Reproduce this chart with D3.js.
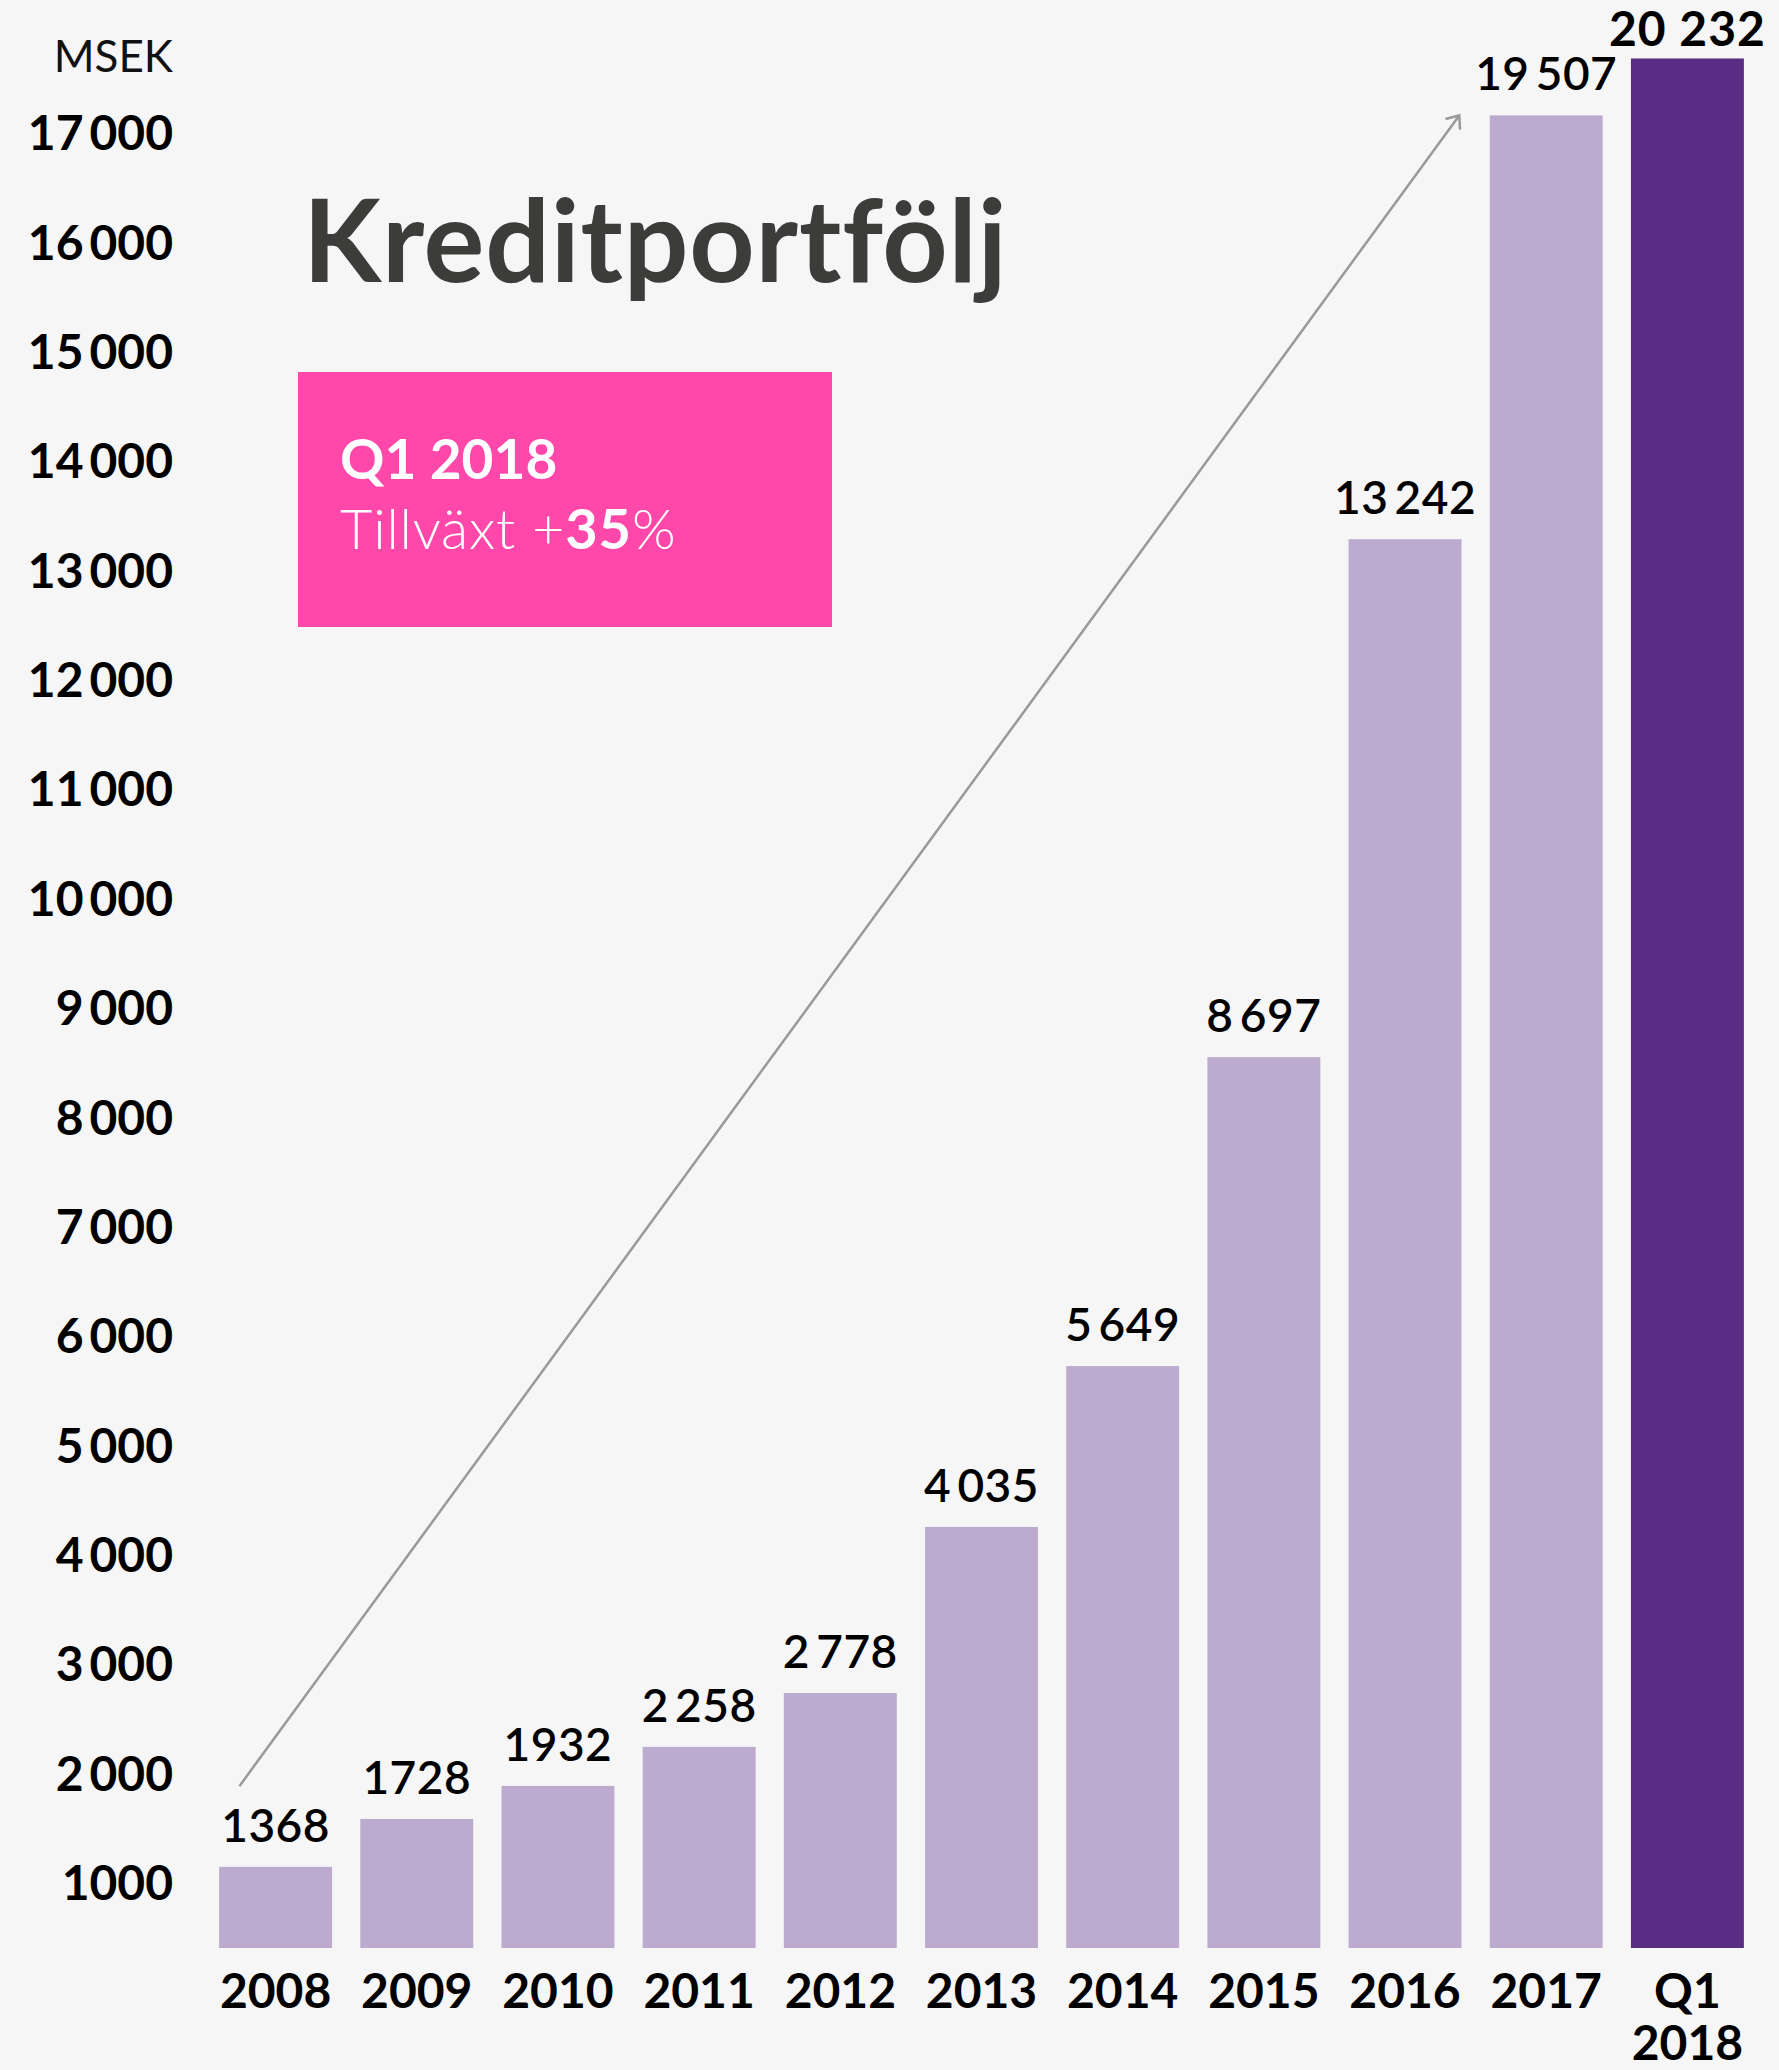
<!DOCTYPE html>
<html>
<head>
<meta charset="utf-8">
<script src="https://cdn.jsdelivr.net/npm/d3@7"></script>
<style>
  html, body { margin: 0; padding: 0; background: #f6f6f6; }
  svg { display: block; }
  text { font-family: Lato, "Open Sans", sans-serif; }
</style>
</head>
<body>
<svg id="chart" width="1779" height="2070"></svg>
<script>
// ---- data ----
const categories = ["2008","2009","2010","2011","2012","2013","2014","2015","2016","2017","Q1 2018"];
// bar heights as drawn against the y axis
const barValues = [1142, 1580, 1882, 2239, 2732, 4250, 5721, 8546, 13281, 17156, 17677];
// printed value labels
const valueLabels = ["1368","1728","1932","2\u2009258","2\u2009778","4\u2009035","5\u2009649","8\u2009697","13\u2009242","19\u2009507","20 232"];
const yTicks = [1000,2000,3000,4000,5000,6000,7000,8000,9000,10000,11000,12000,13000,14000,15000,16000,17000];
const yTickLabels = ["1000","2\u2009000","3\u2009000","4\u2009000","5\u2009000","6\u2009000","7\u2009000","8\u2009000","9\u2009000","10\u2009000","11\u2009000","12\u2009000","13\u2009000","14\u2009000","15\u2009000","16\u2009000","17\u2009000"];
const unitLabel = "MSEK";
const title = "Kreditportfölj";
const boxTitle = "Q1 2018";
const boxText = ["Tillväxt ", "+", "35", "%"];

// ---- drawing ----
const svg = d3.select("#chart");
svg.append("rect").attr("width",1779).attr("height",2070).attr("fill","#f6f6f6");

const x = d3.scaleBand().domain(categories).range([205, 1758]).paddingInner(0.2).paddingOuter(0.1);
const y = d3.scaleLinear().domain([400, 17000]).range([1948, 132.5]);

const lightC = "#bcabcf", darkC = "#5a2d84";

// y axis
const yAxis = d3.axisLeft(y).tickValues(yTicks).tickSize(0).tickPadding(0)
  .tickFormat((d,i) => yTickLabels[i]);
const gy = svg.append("g").attr("transform","translate(173,0)").call(yAxis);
gy.select(".domain").remove();
gy.selectAll("text").attr("font-size", 48).attr("font-weight", 700).attr("fill","#000")
  .attr("font-family","Lato, sans-serif").attr("dy","0.36em");

svg.append("text").attr("x",173).attr("y",72).attr("text-anchor","end")
  .attr("font-size",44).attr("font-weight",400).attr("fill","#111").text(unitLabel);

// bars
svg.append("g").selectAll("rect").data(categories).join("rect")
  .attr("x", d => x(d)).attr("width", x.bandwidth())
  .attr("y", (d,i) => y(barValues[i]))
  .attr("height", (d,i) => y(400) - y(barValues[i]))
  .attr("fill", (d,i) => i === categories.length-1 ? darkC : lightC);

// value labels
svg.append("g").selectAll("text").data(categories).join("text")
  .attr("x", d => x(d) + x.bandwidth()/2)
  .attr("y", (d,i) => y(barValues[i]) - (i === categories.length-1 ? 12 : 25))
  .attr("text-anchor","middle")
  .attr("font-size", (d,i) => i === categories.length-1 ? 48 : 46)
  .attr("font-weight", (d,i) => i === categories.length-1 ? 700 : 600)
  .attr("letter-spacing", (d,i) => i === categories.length-1 ? 1 : 0.5)
  .attr("fill","#000")
  .text((d,i) => valueLabels[i]);

// x labels (multi-word categories wrap onto separate text lines)
const xg = svg.append("g");
categories.forEach(d => {
  d.split(" ").forEach((p,j) => {
    xg.append("text")
      .attr("x", x(d) + x.bandwidth()/2).attr("y", 2008 + j*52)
      .attr("text-anchor","middle").attr("font-size",48).attr("font-weight",700).attr("fill","#000")
      .text(p);
  });
});

// arrow
const defs = svg.append("defs");
defs.append("marker").attr("id","arrowhead").attr("viewBox","-12 -12 24 24")
  .attr("refX",0).attr("refY",0).attr("markerWidth",24).attr("markerHeight",24)
  .attr("markerUnits","userSpaceOnUse").attr("orient","auto")
  .append("path").attr("d","M-11,-9 L0,0 L-11,9").attr("fill","none")
  .attr("stroke","#999").attr("stroke-width",2.5);
const bw = x.bandwidth();
svg.append("line")
  .attr("x1", x("2008") + 0.18*bw).attr("y1", y(1880))
  .attr("x2", x("2017") - 0.27*bw).attr("y2", y(barValues[9]))
  .attr("stroke","#999").attr("stroke-width",2.5).attr("marker-end","url(#arrowhead)");

// title
svg.append("text").attr("x",303).attr("y",282).attr("font-size",114).attr("font-weight",700)
  .attr("letter-spacing",0.8).attr("fill","#3c3c3b").text(title);

// pink box
svg.append("rect").attr("x",298).attr("y",372).attr("width",534).attr("height",255).attr("fill","#ff48a9");
svg.append("text").attr("x",340).attr("y",479).attr("font-size",55).attr("font-weight",700)
  .attr("fill","#fff").text(boxTitle);
const bt = svg.append("text").attr("x",340).attr("y",549).attr("font-size",56)
  .attr("letter-spacing",0.8).attr("fill","#fff");
bt.append("tspan").attr("font-weight",300).text(boxText[0]);
bt.append("tspan").attr("font-weight",300).text(boxText[1]);
bt.append("tspan").attr("font-weight",700).text(boxText[2]);
bt.append("tspan").attr("font-weight",300).text(boxText[3]);
</script>
</body>
</html>
